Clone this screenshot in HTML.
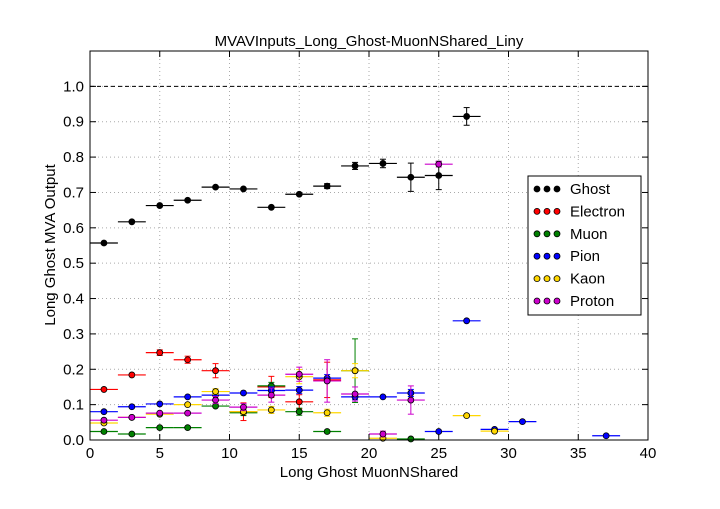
<!DOCTYPE html>
<html><head><meta charset="utf-8"><style>
body{margin:0;background:#fff;}
svg text{font-family:"Liberation Sans",sans-serif;}
</style></head><body>
<svg id="c" width="720" height="504"></svg>
<script>
const binCenters=[1,3,5,7,9,11,13,15,17,19,21,23,25,27,29,31,33,35,37,39];
const ghost=[0.557,0.617,0.663,0.678,0.715,0.71,0.658,0.695,0.718,0.775,0.782,0.743,0.748,0.915,null,null,null,null,null,null];
const ghostErr=[0.005,0.005,0.005,0.005,0.006,0.005,0.005,0.005,0.007,0.01,0.012,0.04,0.04,0.025,0,0,0,0,0,0];
const electron=[0.143,0.184,0.247,0.227,0.196,0.08,0.15,0.108,0.17,null,null,null,null,null,null,null,null,null,null,null];
const electronErr=[0.005,0.005,0.008,0.01,0.02,0.025,0.03,0.02,0.05,0,0,0,0,0,0,0,0,0,0,0];
const muon=[0.024,0.017,0.035,0.035,0.096,0.077,0.153,0.08,0.024,0.196,null,0.003,null,null,null,null,null,null,null,null];
const muonErr=[0.003,0.003,0.004,0.004,0.006,0.008,0.01,0.01,0.005,0.09,0,0.005,0,0,0,0,0,0,0,0];
const pion=[0.08,0.094,0.102,0.122,0.127,0.133,0.14,0.141,0.175,0.122,0.122,0.133,0.024,0.337,0.03,0.052,null,null,0.012,null];
const pionErr=[0.004,0.004,0.004,0.005,0.006,0.006,0.01,0.01,0.01,0.008,0.006,0.01,0.004,0.004,0.004,0.004,0,0,0.004,0];
const kaon=[0.048,0.064,0.073,0.1,0.137,0.08,0.085,0.179,0.077,0.196,0.005,null,null,0.069,0.025,null,null,null,null,null];
const kaonErr=[0.004,0.004,0.004,0.005,0.008,0.008,0.01,0.02,0.01,0.02,0.005,0,0,0.004,0.004,0,0,0,0,0];
const proton=[0.056,0.064,0.076,0.076,0.113,0.093,0.127,0.186,0.167,0.13,0.017,0.113,0.78,null,null,null,null,null,null,null];
const protonErr=[0.004,0.004,0.004,0.005,0.01,0.01,0.02,0.02,0.06,0.02,0.008,0.04,0.008,0,0,0,0,0,0,0];
const xTicks=[0,5,10,15,20,25,30,35,40];
const yTicks=[0.0,0.1,0.2,0.3,0.4,0.5,0.6,0.7,0.8,0.9,1.0];
const seriesNames=["Ghost","Electron","Muon","Pion","Kaon","Proton"];
const seriesColors=["#000","#f00","#008000","#00f","#ffd700","#c0c"];
const seriesData=[ghost,electron,muon,pion,kaon,proton];
const seriesErr=[ghostErr,electronErr,muonErr,pionErr,kaonErr,protonErr];

const L=90,R=648,T=51,B=440;
const X=v=>L+(v/40)*(R-L);
const Y=v=>B-(v/1.1)*(B-T);
const svg=document.getElementById('c');
const NS='http://www.w3.org/2000/svg';
function mk(t,a,p){const e=document.createElementNS(NS,t);for(const k in a)e.setAttribute(k,a[k]);(p||svg).appendChild(e);return e;}

const grid=mk('g',{});


xTicks.forEach(t=>{if(t>0&&t<40)mk('line',{x1:X(t),x2:X(t),y1:T,y2:B,stroke:'#aaa','stroke-dasharray':'1,3'},grid);});
yTicks.forEach(t=>{if(t>0)mk('line',{x1:L,x2:R,y1:Y(t),y2:Y(t),stroke:'#aaa','stroke-dasharray':'1,3'},grid);});
const ref=mk('line',{x1:L,x2:R,y1:Y(1),y2:Y(1),stroke:'#000','stroke-dasharray':'4,3'});



seriesData.forEach((d,si)=>{
  const g=mk('g',{});
  
  
  const c=seriesColors[si];
  d.forEach((v,i)=>{
    if(v===null)return;
    const cx=binCenters[i],e=seriesErr[si][i];
    mk('line',{x1:X(cx-1),x2:X(cx+1),y1:Y(v),y2:Y(v),stroke:c,'stroke-width':1.2},g);
    if(e>0.006){mk('line',{x1:X(cx),x2:X(cx),y1:Y(v-e),y2:Y(v+e),stroke:c,'stroke-width':1},g);
      mk('line',{x1:X(cx)-3,x2:X(cx)+3,y1:Y(v-e),y2:Y(v-e),stroke:c},g);
      mk('line',{x1:X(cx)-3,x2:X(cx)+3,y1:Y(v+e),y2:Y(v+e),stroke:c},g);}
    const p=mk('circle',{cx:X(cx),cy:Y(v),r:3,fill:c,stroke:'#000','stroke-width':0.8},g);
    
    
  });
});

const frame=mk('rect',{x:L,y:T,width:R-L,height:B-T,fill:'none',stroke:'#000'});


xTicks.forEach(t=>{
  mk('line',{x1:X(t),x2:X(t),y1:B,y2:B-6,stroke:'#000'});mk('line',{x1:X(t),x2:X(t),y1:T,y2:T+6,stroke:'#000'});
  const tx=mk('text',{x:X(t),y:B+18,'text-anchor':'middle','font-size':15});tx.textContent=t;
  
  
});
yTicks.forEach(t=>{
  mk('line',{x1:L,x2:L+6,y1:Y(t),y2:Y(t),stroke:'#000'});mk('line',{x1:R,x2:R-6,y1:Y(t),y2:Y(t),stroke:'#000'});
  const tx=mk('text',{x:L-6,y:Y(t)+5,'text-anchor':'end','font-size':15});tx.textContent=t.toFixed(1);
  
  
});
const title=mk('text',{x:369,y:46,'text-anchor':'middle','font-size':15});title.textContent='MVAVInputs_Long_Ghost-MuonNShared_Liny';


const xt=mk('text',{x:369,y:477,'text-anchor':'middle','font-size':15});xt.textContent='Long Ghost MuonNShared';


const yt=mk('text',{x:55,y:245,'text-anchor':'middle','font-size':15,transform:'rotate(-90 55 245)'});yt.textContent='Long Ghost MVA Output';



const lg=mk('g',{});


mk('rect',{x:528,y:176,width:113,height:139,fill:'#fff',stroke:'#000'},lg);
seriesNames.forEach((n,i)=>{
  const e=mk('g',{},lg);
  
  
  const y=189+i*22.4;
  [537,547,557].forEach(x=>mk('circle',{cx:x,cy:y,r:3,fill:seriesColors[i],stroke:'#000','stroke-width':0.8},e));
  const t=mk('text',{x:570,y:y+5,'font-size':15},e);t.textContent=n;
});
</script>
</body></html>
